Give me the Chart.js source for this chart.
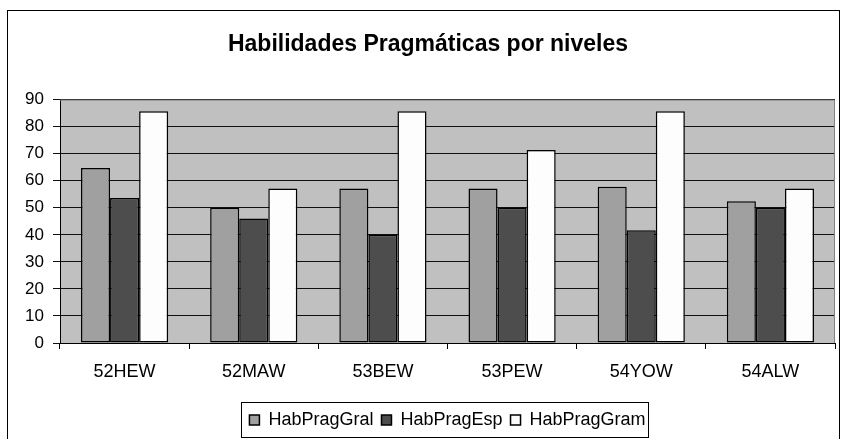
<!DOCTYPE html>
<html>
<head>
<meta charset="utf-8">
<script src="https://cdn.jsdelivr.net/npm/chart.js@4.4.0/dist/chart.umd.min.js"></script>
<style>
  html, body { margin: 0; padding: 0; background: #fff; }
  #wrap { width: 841px; height: 439px; }
</style>
</head>
<body>
<div id="wrap"><canvas id="chart" width="841" height="439"></canvas></div>
<script>
const categories = ['52HEW', '52MAW', '53BEW', '53PEW', '54YOW', '54ALW'];
const habPragGral = [64.7, 50, 57.1, 57.1, 57.8, 52.4];
const habPragEsp = [53.6, 46, 40, 50, 41.7, 50];
const habPragGram = [85.7, 57.1, 85.7, 71.4, 85.7, 57.1];
const yTicks = { min: 0, max: 90, step: 10 };

Chart.defaults.font.family = "'Liberation Sans', Arial, sans-serif";
Chart.defaults.color = '#000';

// plot area background, grey frame, outer border and legend box
const excelFrame = {
  id: 'excelFrame',
  beforeDraw(chart) {
    const { ctx, chartArea: a } = chart;
    ctx.save();
    ctx.fillStyle = '#fff';
    ctx.fillRect(0, 0, chart.width, chart.height);
    ctx.fillStyle = '#c0c0c0';
    ctx.fillRect(a.left, a.top, a.right - a.left, a.bottom - a.top);
    ctx.restore();
  },
  afterDraw(chart) {
    const { ctx, chartArea: a } = chart;
    ctx.save();
    ctx.strokeStyle = '#808080';
    ctx.lineWidth = 1;
    ctx.beginPath();
    ctx.moveTo(a.left, a.top + 0.5);
    ctx.lineTo(a.right - 0.5, a.top + 0.5);
    ctx.lineTo(a.right - 0.5, a.bottom);
    ctx.stroke();

    ctx.strokeStyle = '#000';
    ctx.strokeRect(7.5, 10.5, 832, 450);

    const lg = chart.legend;
    if (lg && lg.legendHitBoxes.length) {
      const hb = lg.legendHitBoxes;
      const left = Math.min(...hb.map(h => h.left)) - 8;
      const right = Math.max(...hb.map(h => h.left + h.width)) + 3;
      const mid = hb[0].top + hb[0].height / 2;
      ctx.strokeRect(Math.round(left) + 0.5, Math.round(mid - 18) + 0.5, Math.round(right - left), 35);
    }
    ctx.restore();
  }
};

new Chart(document.getElementById('chart'), {
  type: 'bar',
  data: {
    labels: categories,
    datasets: [
      { label: 'HabPragGral', data: habPragGral, backgroundColor: '#a0a0a0' },
      { label: 'HabPragEsp', data: habPragEsp, backgroundColor: '#4d4d4d' },
      { label: 'HabPragGram', data: habPragGram, backgroundColor: '#fdfdfd' }
    ]
  },
  options: {
    responsive: false,
    animation: false,
    devicePixelRatio: 1,
    layout: { padding: { left: 21, right: 6, top: 0, bottom: 0 } },
    datasets: {
      bar: {
        borderColor: '#000',
        borderWidth: 1.5,
        borderSkipped: false,
        categoryPercentage: 0.675,
        barPercentage: 1
      }
    },
    plugins: {
      tooltip: { enabled: false },
      title: {
        display: true,
        text: 'Habilidades Pragmáticas por niveles',
        font: { size: 23, weight: 'bold' },
        color: '#000',
        padding: { top: 31, bottom: 41 }
      },
      legend: {
        position: 'bottom',
        fullSize: false,
        labels: {
          boxWidth: 10,
          boxHeight: 10,
          padding: 8,
          font: { size: 18 },
          color: '#000'
        }
      }
    },
    scales: {
      x: {
        afterFit: s => { s.height = 60; },
        grid: { offset: true, drawOnChartArea: false, drawTicks: true, tickLength: 6, color: '#000' },
        border: { color: '#000' },
        ticks: { font: { size: 18 }, padding: 12, color: '#000' }
      },
      y: {
        min: yTicks.min,
        max: yTicks.max,
        afterFit: s => { s.width = 39; },
        grid: { color: '#111', tickLength: 7 },
        border: { color: '#000' },
        ticks: { stepSize: yTicks.step, font: { size: 17 }, padding: 9, color: '#000' }
      }
    }
  },
  plugins: [excelFrame]
});
</script>
</body>
</html>
